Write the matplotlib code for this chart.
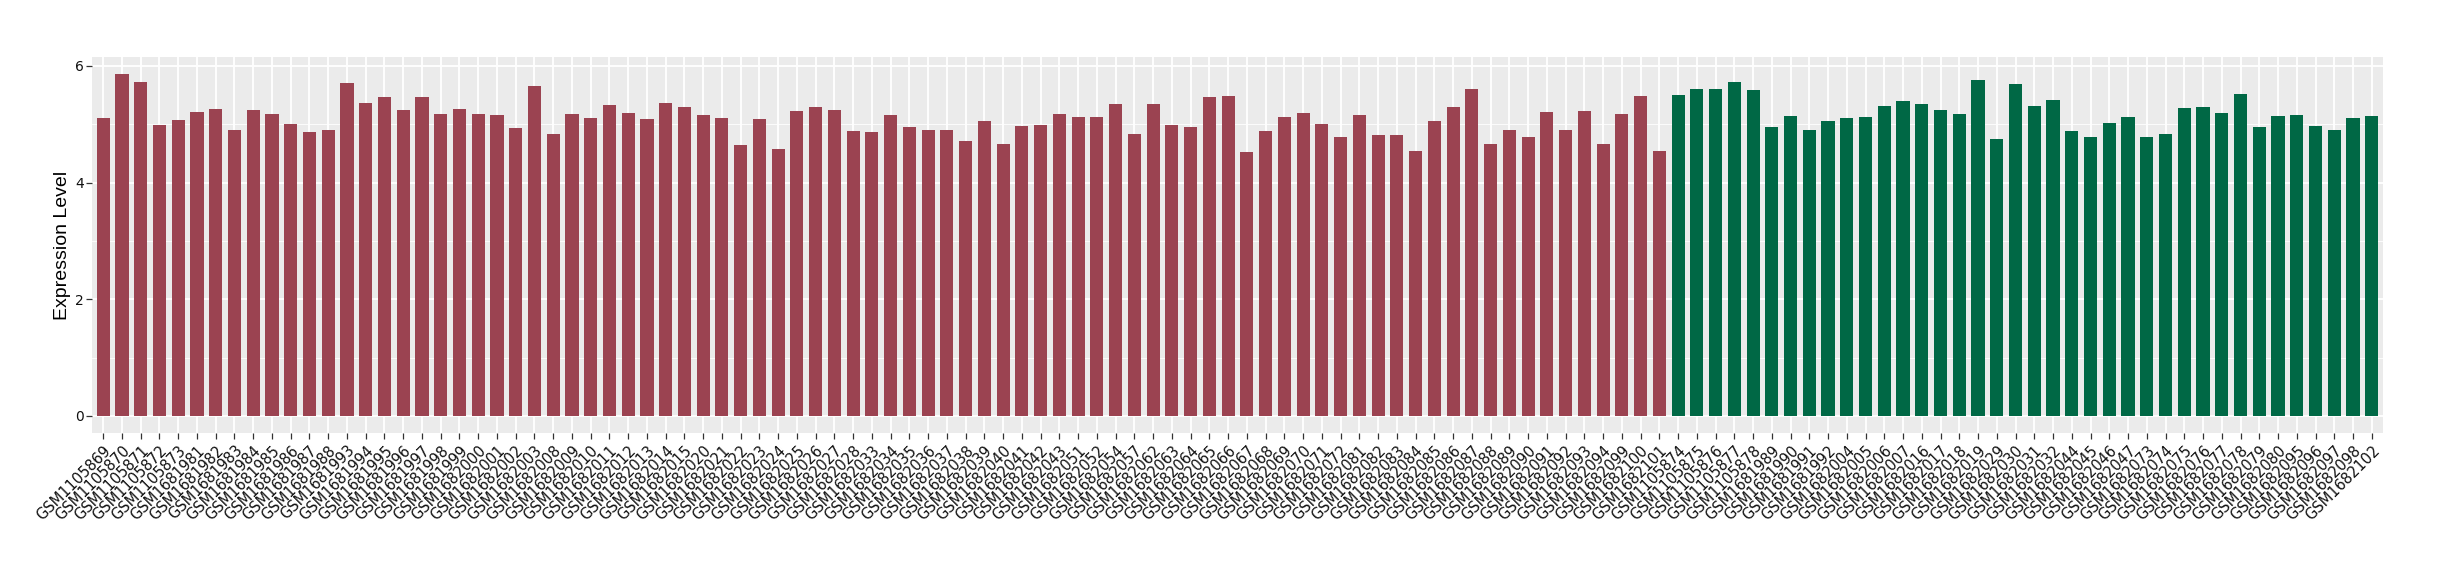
import matplotlib
matplotlib.use("Agg")
import matplotlib.pyplot as plt
from matplotlib.ticker import MultipleLocator

group_a_samples = [
    "GSM1105869", "GSM1105870", "GSM1105871", "GSM1105872", "GSM1105873",
    "GSM1681981", "GSM1681982", "GSM1681983", "GSM1681984", "GSM1681985",
    "GSM1681986", "GSM1681987", "GSM1681988", "GSM1681993", "GSM1681994",
    "GSM1681995", "GSM1681996", "GSM1681997", "GSM1681998", "GSM1681999",
    "GSM1682000", "GSM1682001", "GSM1682002", "GSM1682003", "GSM1682008",
    "GSM1682009", "GSM1682010", "GSM1682011", "GSM1682012", "GSM1682013",
    "GSM1682014", "GSM1682015", "GSM1682020", "GSM1682021", "GSM1682022",
    "GSM1682023", "GSM1682024", "GSM1682025", "GSM1682026", "GSM1682027",
    "GSM1682028", "GSM1682033", "GSM1682034", "GSM1682035", "GSM1682036",
    "GSM1682037", "GSM1682038", "GSM1682039", "GSM1682040", "GSM1682041",
    "GSM1682042", "GSM1682043", "GSM1682051", "GSM1682052", "GSM1682054",
    "GSM1682057", "GSM1682062", "GSM1682063", "GSM1682064", "GSM1682065",
    "GSM1682066", "GSM1682067", "GSM1682068", "GSM1682069", "GSM1682070",
    "GSM1682071", "GSM1682072", "GSM1682081", "GSM1682082", "GSM1682083",
    "GSM1682084", "GSM1682085", "GSM1682086", "GSM1682087", "GSM1682088",
    "GSM1682089", "GSM1682090", "GSM1682091", "GSM1682092", "GSM1682093",
    "GSM1682094", "GSM1682099", "GSM1682100", "GSM1682101",
]
group_a_values = [
    5.11, 5.86, 5.72, 4.98, 5.07, 5.21, 5.26, 4.91, 5.24, 5.17,
    5.00, 4.86, 4.90, 5.71, 5.36, 5.47, 5.24, 5.47, 5.17, 5.26,
    5.17, 5.16, 4.93, 5.66, 4.83, 5.17, 5.10, 5.33, 5.19, 5.09,
    5.36, 5.29, 5.16, 5.10, 4.64, 5.09, 4.57, 5.22, 5.29, 5.24,
    4.88, 4.86, 5.16, 4.95, 4.91, 4.90, 4.72, 5.05, 4.66, 4.97,
    4.98, 5.17, 5.12, 5.12, 5.34, 4.83, 5.34, 4.98, 4.95, 5.47,
    5.49, 4.53, 4.88, 5.12, 5.19, 5.00, 4.79, 5.16, 4.81, 4.81,
    4.54, 5.05, 5.29, 5.60, 4.67, 4.90, 4.78, 5.21, 4.90, 5.22,
    4.66, 5.17, 5.49, 4.55,
]

group_b_samples = [
    "GSM1105874", "GSM1105875", "GSM1105876", "GSM1105877", "GSM1105878",
    "GSM1681989", "GSM1681990", "GSM1681991", "GSM1681992", "GSM1682004",
    "GSM1682005", "GSM1682006", "GSM1682007", "GSM1682016", "GSM1682017",
    "GSM1682018", "GSM1682019", "GSM1682029", "GSM1682030", "GSM1682031",
    "GSM1682032", "GSM1682044", "GSM1682045", "GSM1682046", "GSM1682047",
    "GSM1682073", "GSM1682074", "GSM1682075", "GSM1682076", "GSM1682077",
    "GSM1682078", "GSM1682079", "GSM1682080", "GSM1682095", "GSM1682096",
    "GSM1682097", "GSM1682098", "GSM1682102",
]
group_b_values = [
    5.51, 5.60, 5.60, 5.72, 5.59, 4.95, 5.14, 4.90, 5.05, 5.10,
    5.12, 5.31, 5.40, 5.34, 5.24, 5.17, 5.76, 4.74, 5.69, 5.31,
    5.41, 4.88, 4.79, 5.03, 5.12, 4.79, 4.84, 5.28, 5.29, 5.19,
    5.52, 4.95, 5.14, 5.16, 4.97, 4.91, 5.10, 5.14,
]

color_a = "#9B4351"
color_b = "#006845"

samples = group_a_samples + group_b_samples
values = group_a_values + group_b_values
colors = [color_a] * len(group_a_samples) + [color_b] * len(group_b_samples)
x = list(range(len(samples)))

fig = plt.figure(figsize=(24.4, 5.8), dpi=100)
ax = fig.add_axes([92 / 2440, 1 - 433 / 580, (2383 - 92) / 2440, (433 - 57) / 580])

ax.set_facecolor("#EBEBEB")
for s in ax.spines.values():
    s.set_visible(False)

ax.bar(x, values, width=0.7, color=colors, zorder=3)

ax.set_xlim(-0.6, len(samples) - 1 + 0.6)
vmax = max(values)
ax.set_ylim(-0.05 * vmax, vmax * 1.05)

ax.yaxis.set_major_locator(MultipleLocator(2))
ax.yaxis.set_minor_locator(MultipleLocator(1))
ax.grid(True, which="major", color="white", linewidth=1.3, zorder=1)
ax.grid(True, which="minor", axis="y", color="white", linewidth=0.6, zorder=1)

ax.set_xticks(x)
ax.set_xticklabels(samples, rotation=45, ha="right", va="top",
                   rotation_mode="anchor", fontsize=10.5, color="#111111",
                   family="DejaVu Sans")
ax.tick_params(axis="both", which="major", length=4, width=0.9, color="#333333")
ax.tick_params(axis="y", which="minor", length=0)
ax.tick_params(axis="y", labelsize=10, labelcolor="#111111", pad=2)
ax.tick_params(axis="x", pad=3)

ax.set_ylabel("Expression Level", fontsize=14, family="Liberation Sans",
              color="black", labelpad=3)

fig.savefig("out.png", dpi=100, facecolor="white")
